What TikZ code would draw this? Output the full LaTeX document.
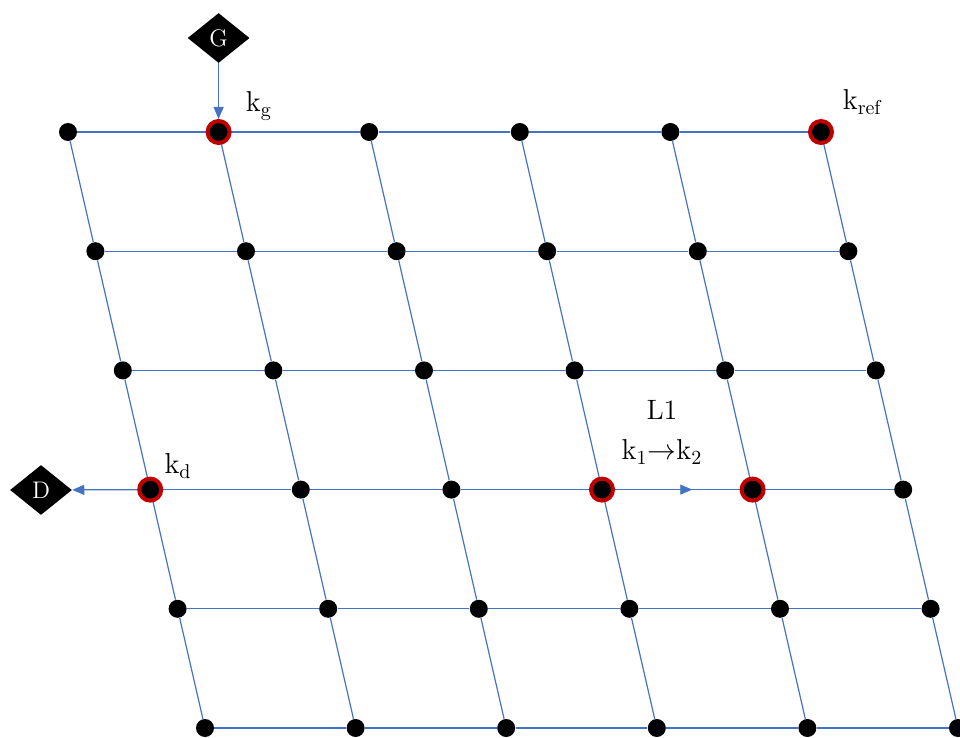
\documentclass[tikz,border=0pt]{standalone}
\usepackage{tikz}
\usetikzlibrary{arrows.meta,shapes.geometric,decorations.markings}
\definecolor{lblue}{HTML}{4472C4}
\definecolor{rring}{HTML}{C00000}
\tikzset{
  pt/.style={circle,fill=black,minimum size=9pt,inner sep=0pt},
  ptr/.style={circle,fill=black,draw=rring,line width=2pt,minimum size=11pt,inner sep=0pt},
  port/.style={diamond,fill=black,text=white,minimum width=31pt,minimum height=25pt,inner sep=0pt,font=\fontsize{12}{14}\selectfont},
  lnk/.style={draw=lblue,line width=.6pt},
  tip/.style={-{Triangle[length=6pt,width=5pt]}},
  lb/.style={font=\fontsize{14}{17}\selectfont},
}

\begin{document}
\begin{tikzpicture}[x=0.5pt,y=-0.5pt]
\useasboundingbox (0,0) rectangle (960,738);
% lattice of sites, each row shifted to the right
\foreach \r in {0,...,5}
  \foreach \c in {0,...,5}
    \node[pt] (k\r\c) at ({68+150.6*\c+27.4*\r},{132+119.2*\r}) {};
\foreach \r in {0,...,5}
  \foreach \j/\jn in {0/1,1/2,2/3,3/4,4/5}
    \draw[lnk] (k\r\j) -- (k\r\jn);
\foreach \r/\rn in {0/1,1/2,2/3,3/4,4/5}
  \foreach \j in {0,...,5}
    \draw[lnk] (k\r\j) -- (k\rn\j);
% marked sites
\node[ptr] (kg) at (k01) {};
\node[ptr] (kref) at (k05) {};
\node[ptr] (kd) at (k30) {};
\node[ptr] (ka) at (k33) {};
\node[ptr] (kb) at (k34) {};
% source and drain
\node[port] (G) at (218.6,38) {G};
\node[port] (D) at (41,490) {D};
\draw[lnk,tip] (G) -- (kg);
\draw[lnk,tip] (kd) -- (D);
% link L1
\path[decoration={markings,mark=at position 0.62 with {\arrow[lblue]{Triangle[length=6pt,width=5pt]}}},
  postaction={decorate}] (ka) -- (kb);
\node[lb] (lg) at (259,106) {$\mathrm{k_g}$};
\node[lb] (lref) at (863,102) {$\mathrm{k_{ref}}$};
\node[lb] (ld) at (178,466) {$\mathrm{k_d}$};
\node[lb] (l1) at (662,410) {L1};
\node[lb] (l12) at (662,452) {$\mathrm{k_1{\rightarrow}k_2}$};
\end{tikzpicture}
\end{document}
